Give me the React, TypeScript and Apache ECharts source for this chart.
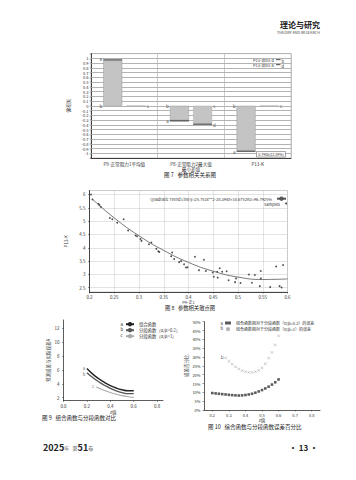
import React, { useEffect, useRef } from 'react';
import * as echarts from 'echarts';

const FONT = '"Noto Sans CJK SC", "Noto Sans", sans-serif';

// ---------- Figure 7 : partial correlation bars ----------
const fig7Categories = ['P9-正常阻力1平均值', 'P8-正常阻力2最大值\n最小差值', 'P13-K'];
const fig7SeriesA = [0.98, -0.33, -0.97];
const fig7SeriesB = [0, -0.4, 0];
const fig7Cap = 0.025;
const fig7Ticks = [-1, -0.9, -0.8, -0.7, -0.6, -0.5, -0.4, -0.3, -0.2, -0.1, 0, 0.1, 0.2, 0.3, 0.4, 0.5, 0.6, 0.7, 0.8, 0.9, 1];

// ---------- Figure 8 : scatter + quadratic trend ----------
const fig8Samples: [number, number][] = [
  [0.203, 6.0], [0.206, 5.81], [0.218, 5.65], [0.22, 5.6], [0.223, 5.53],
  [0.241, 5.12], [0.246, 5.07], [0.256, 4.94], [0.269, 5.07], [0.278, 4.65],
  [0.293, 4.46], [0.296, 4.43], [0.303, 4.33], [0.305, 4.26], [0.32, 4.13],
  [0.325, 4.2], [0.335, 3.96], [0.339, 3.87], [0.341, 3.84], [0.365, 3.68],
  [0.367, 3.82], [0.371, 3.58], [0.381, 3.46], [0.385, 3.5], [0.391, 3.38],
  [0.395, 3.26], [0.398, 3.27], [0.413, 3.66], [0.421, 3.16], [0.431, 3.55],
  [0.435, 3.13], [0.449, 3.07], [0.451, 2.91], [0.459, 2.88], [0.458, 3.1],
  [0.463, 3.23], [0.468, 3.1], [0.477, 3.12], [0.481, 2.78], [0.494, 2.71],
  [0.496, 2.85], [0.505, 2.68], [0.522, 3.0], [0.528, 2.69], [0.534, 2.98],
  [0.544, 2.56], [0.546, 3.13], [0.546, 2.85], [0.565, 2.53], [0.577, 3.3],
  [0.584, 2.56], [0.588, 2.51], [0.591, 3.35],
];
const fig8Trend: [number, number][] = [
  [0.205, 5.84], [0.25, 5.12], [0.3, 4.45], [0.35, 3.9], [0.4, 3.45],
  [0.45, 3.12], [0.5, 2.9], [0.55, 2.81], [0.6, 2.83],
];
const fig8YTicks = [2.5, 3, 3.5, 4, 4.5, 5, 5.5, 6];
const fig8TrendName = 'Quadratic Trend Line:y=25.753x**2-28.394x+10.6752R2=96.7925%';

// ---------- Figure 9 : combined vs piecewise ----------
const fig9A: [number, number][] = [
  [0.2, 6.2], [0.25, 5.4], [0.3, 4.75], [0.35, 4.2], [0.4, 3.75], [0.45, 3.4], [0.5, 3.15], [0.55, 3.0], [0.6, 3.0],
];
const fig9B: [number, number][] = [
  [0.2, 5.6], [0.25, 4.9], [0.3, 4.3], [0.35, 3.8], [0.4, 3.35], [0.45, 3.0], [0.5, 2.75], [0.55, 2.6], [0.6, 2.6],
];
const fig9C: [number, number][] = [
  [0.28, 3.55], [0.3, 3.4], [0.35, 3.05], [0.4, 2.75], [0.45, 2.5], [0.5, 2.3], [0.55, 2.15], [0.6, 2.05],
];
const fig9XTicks = [0, 0.2, 0.4, 0.6, 0.8];
const fig9YTicks = [2, 4, 6, 8, 10, 12];
const fig9Names = ['组合函数', '分段函数（α/β=0.2）', '分段函数（α/β=1）'];

// ---------- Figure 10 : error percentage ----------
const fig10A: [number, number][] = [
  [0.2, 9.6], [0.22, 9.4], [0.24, 9.2], [0.26, 9.0], [0.28, 8.8], [0.3, 8.6], [0.32, 8.4],
  [0.34, 8.3], [0.36, 8.2], [0.38, 8.3], [0.4, 8.5], [0.42, 8.8], [0.44, 9.2], [0.46, 9.8],
  [0.48, 10.5], [0.5, 11.3], [0.52, 12.2], [0.54, 13.2], [0.56, 14.4], [0.58, 15.7], [0.6, 17.3],
];
const fig10B: [number, number][] = [
  [0.28, 29.5], [0.3, 27.6], [0.32, 26.0], [0.34, 24.5], [0.36, 23.3], [0.38, 22.3],
  [0.4, 21.7], [0.42, 21.3], [0.44, 21.3], [0.46, 21.7], [0.48, 22.4], [0.5, 23.8],
  [0.52, 26.2], [0.54, 29.3], [0.56, 32.6], [0.58, 36.8], [0.6, 42.0],
];
const fig10XTicks = [0.2, 0.3, 0.4, 0.5, 0.6, 0.7, 0.8];
const fig10Names = ['组合函数相对于分段函数（α/β=0.2）的误差', '组合函数相对于分段函数（α/β=1）的误差'];

const AX = '#333';
const GRIDC = '#c9c9c9';

function txt(x: number, y: number, text: string, fontSize: number, opts: any = {}) {
  return {
    type: 'text',
    x,
    y,
    silent: true,
    style: {
      text,
      fontSize,
      fontFamily: FONT,
      fill: opts.fill || '#333',
      fontWeight: opts.bold ? 'bold' : 'normal',
      align: opts.align || 'left',
      verticalAlign: 'middle',
      textAlign: opts.align || 'left',
      textVerticalAlign: 'middle',
    },
  };
}

function buildOption() {
  const grayA = fig7SeriesA.map((v) => v - Math.sign(v) * fig7Cap);
  const darkA = fig7SeriesA.map((v) => Math.sign(v) * fig7Cap);
  const grayB = fig7SeriesB.map((v) => v - Math.sign(v) * fig7Cap);
  const darkB = fig7SeriesB.map((v) => Math.sign(v) * fig7Cap);

  const leftLetters: any[] = [];
  const rightLetters: any[] = [];
  fig7Categories.forEach((_, i) => {
    leftLetters.push({ value: [i, 0], name: 'b' });
    leftLetters.push({ value: [i, fig7SeriesA[i]], name: 'a' });
    rightLetters.push({ value: [i, 0], name: 'c' });
    if (fig7SeriesB[i] !== 0) rightLetters.push({ value: [i, fig7SeriesB[i]], name: 'd' });
  });

  const smallLabel = (size: number, extra: any = {}) => ({
    fontSize: size,
    color: '#333',
    fontFamily: FONT,
    ...extra,
  });

  const barStyle = { color: '#c4c4c4', borderColor: '#9a9a9a', borderWidth: 0.5 };
  const capStyle = { color: '#4a4a4a' };

  return {
    animation: false,
    backgroundColor: '#fff',
    textStyle: { fontFamily: FONT },
    grid: [
      { left: 91, top: 53.6, width: 200, height: 104.4, show: true, borderColor: '#aaa', borderWidth: 0.6, backgroundColor: 'transparent' },
      { left: 89.5, top: 190.5, width: 198, height: 101.5, show: true, borderColor: '#aaa', borderWidth: 0.6, backgroundColor: 'transparent' },
      { left: 63.5, top: 320, width: 99.5, height: 80.5 },
      { left: 204, top: 321.7, width: 116, height: 88.3 },
    ],
    xAxis: [
      {
        type: 'category', gridIndex: 0, data: fig7Categories,
        axisLine: { onZero: false, lineStyle: { color: AX, width: 0.9 } },
        axisTick: { show: false },
        axisLabel: { ...smallLabel(4.6), margin: 3.5, interval: 0, lineHeight: 5 },
        splitLine: { show: true, lineStyle: { color: '#aaa', width: 0.6 } },
      },
      {
        type: 'value', gridIndex: 1, min: 0.2, max: 0.6, interval: 0.05,
        axisLine: { lineStyle: { color: AX, width: 0.9 } },
        axisTick: { length: 1.5, lineStyle: { color: AX, width: 0.5 } },
        axisLabel: { ...smallLabel(4.5), margin: 3, formatter: (v: number) => String(Number(v.toFixed(2))) },
        splitLine: { show: true, lineStyle: { color: GRIDC, width: 0.5 } },
        name: 'P9-正1', nameLocation: 'middle', nameGap: 6, nameTextStyle: smallLabel(4),
      },
      {
        type: 'value', gridIndex: 2, min: 0, max: 0.85,
        axisLine: { lineStyle: { color: AX, width: 0.8 } },
        axisTick: { customValues: fig9XTicks, length: 1.5, lineStyle: { color: AX, width: 0.5 } },
        axisLabel: { ...smallLabel(4.5), margin: 3, customValues: fig9XTicks, formatter: (v: number) => v.toFixed(1) },
        splitLine: { show: false },
        name: 'z值', nameLocation: 'middle', nameGap: 9, nameTextStyle: smallLabel(4.5),
      },
      {
        type: 'value', gridIndex: 3, min: 0.15, max: 0.85,
        axisLine: { lineStyle: { color: AX, width: 0.8 } },
        axisTick: { customValues: fig10XTicks, length: 1.5, lineStyle: { color: AX, width: 0.5 } },
        axisLabel: { ...smallLabel(4), margin: 3, customValues: fig10XTicks, formatter: (v: number) => v.toFixed(1) },
        splitLine: { show: false },
        name: 'z值', nameLocation: 'middle', nameGap: 8, nameTextStyle: smallLabel(4.5),
      },
    ],
    yAxis: [
      {
        type: 'value', gridIndex: 0, min: -1.1, max: 1.1, interval: 0.1,
        axisLine: { show: true, lineStyle: { color: AX, width: 0.9 } },
        axisTick: { show: true, length: 1.5, lineStyle: { color: AX, width: 0.4 } },
        axisLabel: {
          ...smallLabel(4), margin: 2.5,
          formatter: (v: number) => (Math.abs(v) > 1.05 ? '' : String(Number(v.toFixed(1)))),
        },
        splitLine: { show: true, lineStyle: { color: '#b3b3b3', width: 1 } },
        name: '偏相关', nameLocation: 'middle', nameGap: 13, nameRotate: 90, nameTextStyle: smallLabel(4.6),
      },
      {
        type: 'value', gridIndex: 1, min: 2.34, max: 6.15,
        axisLine: { show: true, lineStyle: { color: AX, width: 0.9 } },
        axisTick: { show: true, customValues: fig8YTicks, length: 1.5, lineStyle: { color: AX, width: 0.5 } },
        axisLabel: { ...smallLabel(4.5), margin: 4, customValues: fig8YTicks, formatter: (v: number) => String(v) },
        splitLine: { show: true, lineStyle: { color: GRIDC, width: 0.5 } },
        name: 'P13-K', nameLocation: 'middle', nameGap: 19, nameRotate: 90, nameTextStyle: smallLabel(4.5),
      },
      {
        type: 'value', gridIndex: 2, min: 1.6, max: 13.2,
        axisLine: { show: true, lineStyle: { color: AX, width: 0.8 } },
        axisTick: { show: true, customValues: fig9YTicks, length: 1.5, lineStyle: { color: AX, width: 0.5 } },
        axisLabel: { ...smallLabel(4.5), margin: 4, customValues: fig9YTicks, formatter: (v: number) => String(v) },
        splitLine: { show: false },
        name: '预测误差与实际误差A', nameLocation: 'middle', nameGap: 10, nameRotate: 90, nameTextStyle: smallLabel(4.5),
      },
      {
        type: 'value', gridIndex: 3, min: 0, max: 50, interval: 5,
        axisLine: { show: true, lineStyle: { color: AX, width: 0.8 } },
        axisTick: { show: true, length: 1.5, lineStyle: { color: AX, width: 0.5 } },
        axisLabel: { ...smallLabel(4), margin: 3.5, formatter: '{value}%' },
        splitLine: { show: false },
        name: '误差百分比', nameLocation: 'middle', nameGap: 13, nameRotate: 90, nameTextStyle: smallLabel(4.5),
      },
    ],
    legend: [
      {
        data: [fig8TrendName], right: 69, top: 196.5, align: 'right', padding: 0,
        itemWidth: 9, itemHeight: 3, textStyle: smallLabel(4), selectedMode: false,
      },
      {
        data: ['Samples'], right: 69, top: 201.5, align: 'right', padding: 0,
        itemWidth: 2, itemHeight: 2, textStyle: smallLabel(4), selectedMode: false,
      },
      {
        data: fig9Names, left: 125, top: 322, orient: 'vertical', padding: 0, itemGap: 1.6,
        itemWidth: 8, itemHeight: 3, textStyle: smallLabel(4.3), selectedMode: false,
      },
      {
        data: fig10Names, left: 225, top: 321, orient: 'vertical', padding: 0, itemGap: 1.6,
        itemWidth: 6, itemHeight: 3, textStyle: smallLabel(4), selectedMode: false,
      },
    ],
    series: [
      // Figure 7 gridlines (drawn behind the bars)
      {
        name: 'fig7Grid', type: 'line', xAxisIndex: 0, yAxisIndex: 0, data: ['-', '-', '-'],
        showSymbol: false, silent: true, z: 1,
        markLine: {
          silent: true, symbol: 'none', z: 1,
          label: { show: false },
          lineStyle: { color: '#b3b3b3', width: 0.7, type: 'solid' },
          emphasis: { disabled: true },
          data: fig7Ticks.map((v) => ({ yAxis: v })),
        },
      },
      { name: 'A', type: 'bar', xAxisIndex: 0, yAxisIndex: 0, stack: 'A', data: grayA, barWidth: 19, barGap: '22%', itemStyle: barStyle, z: 10 },
      { name: 'Acap', type: 'bar', xAxisIndex: 0, yAxisIndex: 0, stack: 'A', data: darkA, barWidth: 19, barGap: '22%', itemStyle: capStyle, z: 10 },
      { name: 'B', type: 'bar', xAxisIndex: 0, yAxisIndex: 0, stack: 'B', data: grayB, barWidth: 19, barGap: '22%', itemStyle: { ...barStyle, borderColor: '#b0b0b0' }, z: 10 },
      { name: 'Bcap', type: 'bar', xAxisIndex: 0, yAxisIndex: 0, stack: 'B', data: darkB, barWidth: 19, barGap: '22%', itemStyle: capStyle, z: 10 },
      {
        name: 'lettersL', type: 'scatter', xAxisIndex: 0, yAxisIndex: 0, data: leftLetters,
        symbolSize: 0.1, itemStyle: { color: 'transparent' }, z: 12,
        label: { show: true, position: 'inside', offset: [-23.5, 0], formatter: '{b}', ...smallLabel(4.5) },
      },
      {
        name: 'lettersR', type: 'scatter', xAxisIndex: 0, yAxisIndex: 0, data: rightLetters,
        symbolSize: 0.1, itemStyle: { color: 'transparent' }, z: 12,
        label: { show: true, position: 'inside', offset: [23.5, 0], formatter: '{b}', ...smallLabel(4.5) },
      },
      // Figure 8
      {
        name: fig8TrendName, type: 'line', xAxisIndex: 1, yAxisIndex: 1, data: fig8Trend,
        smooth: true, showSymbol: false, lineStyle: { color: '#555', width: 0.8 }, itemStyle: { color: '#555' },
      },
      {
        name: 'Samples', type: 'scatter', xAxisIndex: 1, yAxisIndex: 1, data: fig8Samples,
        symbolSize: 1.8, itemStyle: { color: '#222' },
      },
      // Figure 9
      {
        name: fig9Names[0], type: 'line', xAxisIndex: 2, yAxisIndex: 2, data: fig9A,
        smooth: true, showSymbol: false, lineStyle: { color: '#222', width: 1.4 }, itemStyle: { color: '#222' },
      },
      {
        name: fig9Names[1], type: 'line', xAxisIndex: 2, yAxisIndex: 2, data: fig9B,
        smooth: true, showSymbol: false, lineStyle: { color: '#555', width: 1.3 }, itemStyle: { color: '#555' },
      },
      {
        name: fig9Names[2], type: 'line', xAxisIndex: 2, yAxisIndex: 2, data: fig9C,
        smooth: true, showSymbol: false, lineStyle: { color: '#aaa', width: 1.1 }, itemStyle: { color: '#aaa' },
      },
      {
        name: 'fig9LettersA', type: 'scatter', xAxisIndex: 2, yAxisIndex: 2,
        data: [{ value: fig9A[0], name: 'a' }, { value: fig9C[0], name: 'c' }],
        symbolSize: 0.1, itemStyle: { color: 'transparent' },
        label: { show: true, position: 'inside', offset: [-3, -1], formatter: '{b}', ...smallLabel(4) },
      },
      {
        name: 'fig9LettersB', type: 'scatter', xAxisIndex: 2, yAxisIndex: 2,
        data: [{ value: fig9B[0], name: 'b' }],
        symbolSize: 0.1, itemStyle: { color: 'transparent' },
        label: { show: true, position: 'inside', offset: [-3, 1.5], formatter: '{b}', ...smallLabel(4) },
      },
      // Figure 10
      {
        name: fig10Names[0], type: 'scatter', xAxisIndex: 3, yAxisIndex: 3, data: fig10A,
        symbol: 'rect', symbolSize: 2.6, itemStyle: { color: '#333' },
      },
      {
        name: fig10Names[1], type: 'scatter', xAxisIndex: 3, yAxisIndex: 3, data: fig10B,
        symbol: 'path://M0,0L10,10M10,0L0,10', symbolSize: 2.6,
        itemStyle: { color: 'transparent', borderColor: '#999', borderWidth: 0.6 },
      },
      {
        name: 'fig10Letters', type: 'scatter', xAxisIndex: 3, yAxisIndex: 3,
        data: [{ value: fig10B[0], name: 'b' }],
        symbolSize: 0.1, itemStyle: { color: 'transparent' },
        label: { show: true, position: 'inside', offset: [-3.5, -1], formatter: '{b}', ...smallLabel(4.5) },
      },
    ],
    graphic: [
      // header
      txt(320, 24, '理论与研究', 8, { bold: true, align: 'right', fill: '#222' }),
      txt(320, 32, 'THEORY AND RESEARCH', 3.8, { align: 'right', fill: '#444' }),
      // fig 7 legend
      txt(253, 59.5, 'P13-误DS d', 4, {}),
      { type: 'rect', silent: true, shape: { x: 276, y: 58.8, width: 4.5, height: 1.4 }, style: { fill: '#666' } },
      txt(281.5, 60.5, 'b', 4, {}),
      txt(253, 64.5, 'P13-误DS B', 4, {}),
      { type: 'rect', silent: true, shape: { x: 276, y: 63.8, width: 4.5, height: 1.4 }, style: { fill: '#666' } },
      txt(281.5, 65.5, 'd', 4, {}),
      // fig 7 annotation box
      { type: 'rect', silent: true, shape: { x: 256.5, y: 151.5, width: 29, height: 5.5 }, style: { fill: '#fff', stroke: '#555', lineWidth: 0.5 }, z: 10 },
      { ...txt(271, 154.3, '0.7985(13.39%)', 3.6, { align: 'center' }), z: 11 },
      // legend letters fig 9 / fig 10
      txt(120.5, 323.8, 'a', 4.3, {}),
      txt(120.5, 329.2, 'b', 4.3, {}),
      txt(120.5, 334.6, 'c', 4.3, {}),
      txt(220.5, 322.6, 'a', 4, {}),
      txt(220.5, 327.6, 'b', 4, {}),
      // captions
      txt(190, 175, '图 7   参数相关关系图', 5.5, { align: 'center', fill: '#222' }),
      txt(190, 308.3, '图 8   参数相关散点图', 5.3, { align: 'center', fill: '#222' }),
      txt(42, 417.5, '图 9   组合函数与分段函数对比', 5.5, { fill: '#222' }),
      txt(208, 427, '图 10   综合函数与分段函数误差百分比', 5.5, { fill: '#222' }),
      // footer
      {
        type: 'text', x: 43, y: 447, silent: true,
        style: {
          text: '{b|2025}{s|年   第}{b|51}{s|卷}',
          fontFamily: FONT,
          verticalAlign: 'middle',
          textVerticalAlign: 'middle',
          rich: {
            b: { fontSize: 9, fontWeight: 'bold', fill: '#222', fontFamily: FONT },
            s: { fontSize: 5, fill: '#555', fontFamily: FONT },
          },
        },
      },
      txt(318, 447, '· 13 ·', 8, { bold: true, align: 'right', fill: '#222' }),
    ],
  };
}

export default function App() {
  const ref = useRef<HTMLDivElement>(null);
  useEffect(() => {
    if (!ref.current) return;
    const chart = echarts.init(ref.current, null, { renderer: 'svg' });
    chart.setOption(buildOption() as any);
    return () => chart.dispose();
  }, []);
  return (
    <div
      ref={ref}
      style={{ position: 'absolute', left: 0, top: 0, width: 356, height: 480, background: '#fff' }}
    />
  );
}
